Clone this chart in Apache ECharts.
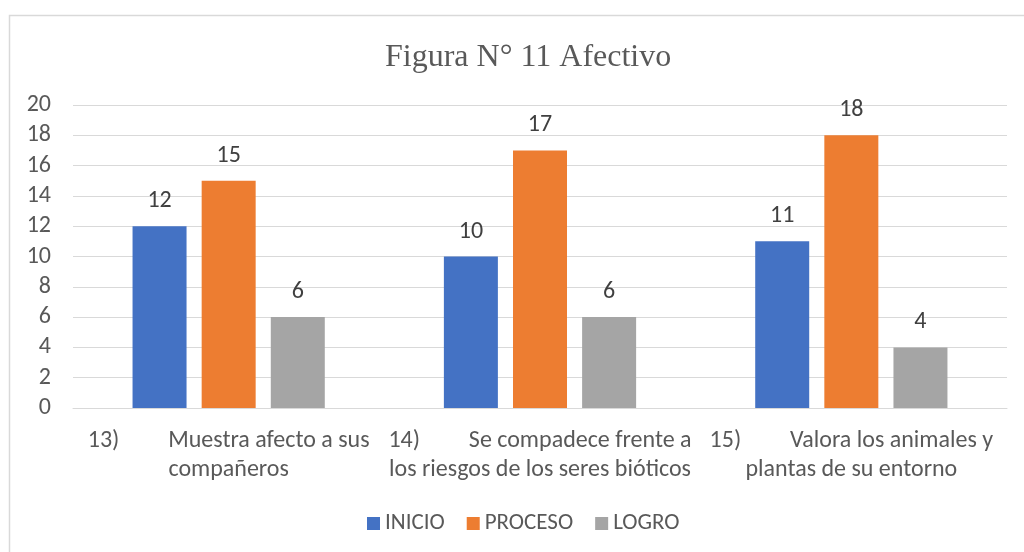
<!DOCTYPE html>
<html>
<head>
<meta charset="utf-8">
<script src="https://cdn.jsdelivr.net/npm/echarts@6/dist/echarts.min.js"></script>
<style>
  html, body { margin: 0; padding: 0; background: #fff; }
  #chart { width: 1024px; height: 552px; }
</style>
</head>
<body>
<div id="chart"></div>
<script>
var categories = [
  '13)         Muestra afecto a sus\ncompañeros',
  '14)         Se compadece frente a\nlos riesgos de los seres bióticos',
  '15)         Valora los animales y\nplantas de su entorno'
];
var inicio = [12, 10, 11];
var proceso = [15, 17, 18];
var logro = [6, 6, 4];

var font = 'Carlito, Lato, "Liberation Sans", sans-serif';
var grey = '#595959';

var chart = echarts.init(document.getElementById('chart'), null, { renderer: 'canvas' });

function barSeries(name, data, color) {
  return {
    name: name,
    type: 'bar',
    data: data,
    barWidth: 54,
    barGap: '28%',
    itemStyle: { color: color },
    label: {
      show: true,
      position: 'top',
      distance: 13,
      color: '#404040',
      fontFamily: font,
      fontSize: 24
    }
  };
}

chart.setOption({
  animation: false,
  backgroundColor: '#fff',
  graphic: [{
    type: 'rect',
    shape: { x: 9.5, y: 15.5, width: 1030, height: 560 },
    style: { fill: 'none', stroke: '#d9d9d9', lineWidth: 1.5 },
    silent: true
  }],
  title: {
    text: 'Figura N° 11 Afectivo',
    left: 380,
    top: 37,
    textStyle: {
      fontFamily: '"Liberation Serif", "Times New Roman", serif',
      fontWeight: 'normal',
      fontSize: 32,
      color: grey
    }
  },
  legend: {
    bottom: 12,
    left: 362,
    itemWidth: 13,
    itemHeight: 13,
    itemGap: 22,
    icon: 'rect',
    textStyle: { fontFamily: font, fontSize: 23, color: grey },
    data: ['INICIO', 'PROCESO', 'LOGRO']
  },
  grid: { left: 73, right: 17, top: 105, bottom: 144 },
  xAxis: {
    type: 'category',
    data: categories,
    axisLine: { lineStyle: { color: '#d9d9d9', width: 1 } },
    axisTick: { show: false },
    axisLabel: {
      color: grey,
      fontFamily: font,
      fontSize: 24,
      lineHeight: 29,
      margin: 18,
      interval: 0
    }
  },
  yAxis: {
    type: 'value',
    min: 0,
    max: 20,
    interval: 2,
    axisLine: { show: false },
    axisTick: { show: false },
    axisLabel: { color: grey, fontFamily: font, fontSize: 24, margin: 22 },
    splitLine: { lineStyle: { color: '#d9d9d9', width: 1 } }
  },
  series: [
    barSeries('INICIO', inicio, '#4472c4'),
    barSeries('PROCESO', proceso, '#ed7d31'),
    barSeries('LOGRO', logro, '#a5a5a5')
  ]
});

window.addEventListener('resize', function() { chart.resize(); });
</script>
</body>
</html>
